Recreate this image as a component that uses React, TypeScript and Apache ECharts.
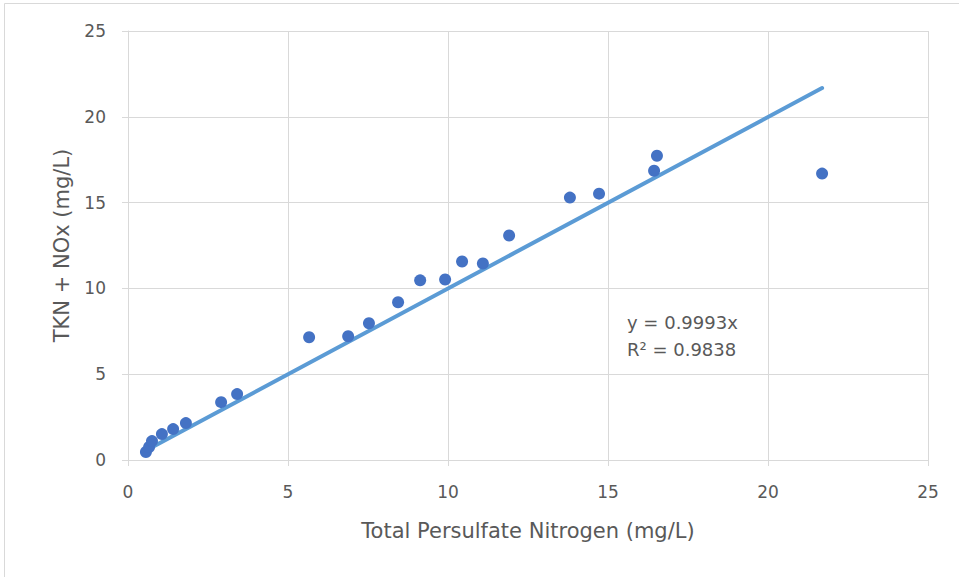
import React, { useEffect, useRef } from "react";
import * as echarts from "echarts";

const xValues = [0.56, 0.66, 0.75, 1.06, 1.41, 1.81, 2.91, 3.41, 5.66, 6.88, 7.53, 8.44, 9.13, 9.91, 10.44, 11.09, 11.91, 13.81, 14.72, 16.44, 16.53, 21.69];
const yValues = [0.47, 0.76, 1.10, 1.51, 1.80, 2.15, 3.37, 3.84, 7.15, 7.21, 7.97, 9.19, 10.47, 10.52, 11.57, 11.45, 13.08, 15.29, 15.52, 16.86, 17.73, 16.69];
const slope = 0.9993;
const equationLines = ["y = 0.9993x", "R² = 0.9838"];
const xAxisName = "Total Persulfate Nitrogen (mg/L)";
const yAxisName = "TKN + NOx (mg/L)";

export default function App() {
  const ref = useRef<HTMLDivElement>(null);
  useEffect(() => {
    document.body.style.margin = "0";
    const chart = echarts.init(ref.current!, null, { renderer: "svg" });
    const pts = xValues.map((x, i) => [x, yValues[i]]);
    const xmin = Math.min(...xValues);
    const xmax = Math.max(...xValues);
    const font = "'DejaVu Sans', 'Open Sans', sans-serif";
    const textColor = "#595959";
    chart.setOption({
      animation: false,
      backgroundColor: "#ffffff",
      grid: { left: 128, right: 31, top: 31, bottom: 117 },
      xAxis: {
        type: "value",
        min: 0,
        max: 25,
        interval: 5,
        name: xAxisName,
        nameLocation: "middle",
        nameGap: 60,
        nameTextStyle: { color: textColor, fontSize: 21, fontFamily: font },
        axisLine: { show: true, lineStyle: { color: "#d9d9d9" } },
        axisTick: { show: true, length: 6, lineStyle: { color: "#d9d9d9" } },
        axisLabel: { color: textColor, fontSize: 17, fontFamily: font, margin: 23 },
        splitLine: { show: true, lineStyle: { color: "#d9d9d9", width: 1 } },
      },
      yAxis: {
        type: "value",
        min: 0,
        max: 25,
        interval: 5,
        name: yAxisName,
        nameLocation: "middle",
        nameGap: 56,
        nameRotate: 90,
        nameTextStyle: { color: textColor, fontSize: 21, fontFamily: font },
        axisLine: { show: true, lineStyle: { color: "#d9d9d9" } },
        axisTick: { show: true, length: 6, lineStyle: { color: "#d9d9d9" } },
        axisLabel: { color: textColor, fontSize: 17, fontFamily: font, margin: 22 },
        splitLine: { show: true, lineStyle: { color: "#d9d9d9", width: 1 } },
      },
      graphic: [
        {
          type: "rect",
          shape: { x: 4.5, y: 3.5, width: 1000, height: 1000 },
          style: { fill: "none", stroke: "#d9d9d9", lineWidth: 1 },
          silent: true,
          z: -1,
        },
        {
          type: "text",
          x: 627,
          y: 309,
          style: {
            text: equationLines.join("\n"),
            fill: textColor,
            font: `18px ${font}`,
            lineHeight: 27,
          },
        },
      ],
      series: [
        {
          type: "line",
          data: [
            [xmin, slope * xmin],
            [xmax, slope * xmax],
          ],
          showSymbol: false,
          symbol: "none",
          lineStyle: { color: "#5B9BD5", width: 4, cap: "round" },
          z: 2,
        },
        {
          type: "scatter",
          data: pts,
          symbolSize: 12,
          itemStyle: { color: "#4472C4", opacity: 1 },
          z: 3,
        },
      ],
    });
    return () => chart.dispose();
  }, []);
  return <div ref={ref} style={{ width: 959, height: 577 }} />;
}
